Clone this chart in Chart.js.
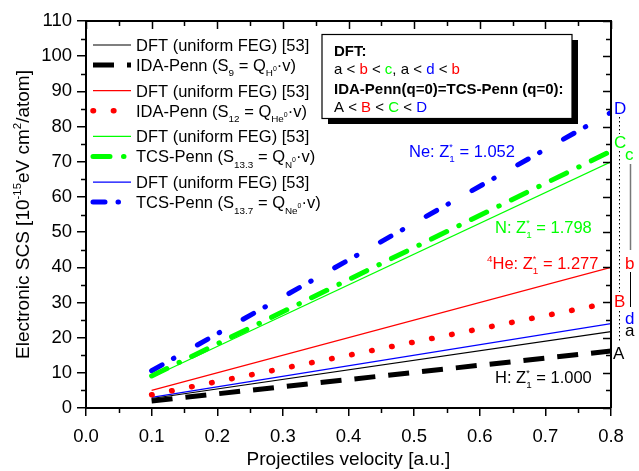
<!DOCTYPE html>
<html>
<head>
<meta charset="utf-8">
<script src="https://cdn.jsdelivr.net/npm/chart.js@4.4.1/dist/chart.umd.min.js"></script>
<style>
  html, body { margin: 0; padding: 0; background: #fff; }
</style>
</head>
<body>
<canvas id="scs" width="639" height="471"></canvas>
<script>
const FAMILY = '"Liberation Sans", Arial, Helvetica, sans-serif';

// end points of every curve: projectile velocity (a.u.)
const velocity = [0.1, 0.8];

// electronic stopping cross sections (10^-15 eV cm^2/atom)
const dftH  = [2.7, 21.7];
const idaH  = [2.0, 16.2];
const dftHe = [5.0, 40.0];
const idaHe = [3.75, 30.0];
const dftN  = [8.75, 70.0];
const tcsN  = [9.1, 73.0];
const dftNe = [3.0, 24.0];
const tcsNe = [10.6, 84.0];

// axis ranges
const xMax = 0.8, xStep = 0.1, xMinor = 0.05;
const yMax = 110, yStep = 10, yMinor = 5;

const BLACK = '#000000', RED = '#ff0000', GREEN = '#00ff00', BLUE = '#0000ff';

const pts = ys => velocity.map((v, i) => ({ x: v, y: ys[i] }));

function thinLine(ys, color) {
  return {
    data: pts(ys), borderColor: color, borderWidth: 1.2, borderDash: [],
    borderCapStyle: 'butt', pointRadius: 0, tension: 0, fill: false,
    rich: ['DFT (uniform FEG) [53]']
  };
}
function thickLine(ys, color, dash, cap, width, rich) {
  return {
    data: pts(ys), borderColor: color, borderWidth: width, borderDash: dash,
    borderCapStyle: cap, pointRadius: 0, tension: 0, fill: false, rich
  };
}

const datasets = [
  thinLine(dftH, BLACK),
  thickLine(idaH, BLACK, [21, 13], 'butt', 5,
    ['IDA-Penn (S', ['9', 'sub'], ' = Q', ['H', 'sub'], ['0', 'ssup'], '·v)']),
  thinLine(dftHe, RED),
  thickLine(idaHe, RED, [0.5, 19.9], 'round', 5.5,
    ['IDA-Penn (S', ['12', 'sub'], ' = Q', ['He', 'sub'], ['0', 'ssup'], '·v)']),
  thinLine(dftN, GREEN),
  thickLine(tcsN, GREEN, [17, 13.5, 0.5, 13.5], 'round', 5,
    ['TCS-Penn (S', ['13.3', 'sub'], ' = Q', ['N', 'sub'], ['0', 'ssup'], '·v)']),
  thinLine(dftNe, BLUE),
  thickLine(tcsNe, BLUE, [12, 13, 0.5, 27], 'round', 5,
    ['TCS-Penn (S', ['13.7', 'sub'], ' = Q', ['Ne', 'sub'], ['0', 'ssup'], '·v)'])
];

// text with sub/superscripts; parts are strings or [text, kind, color]
function rich(ctx, x, y, parts, size, weight, color, dry) {
  let cx = x;
  for (const p of parts) {
    const [text, kind = '', col] = Array.isArray(p) ? p : [p];
    let fs = size, dy = 0, advance = true;
    if (kind === 'sub') { fs = size * 0.6; dy = size * 0.33; }
    else if (kind === 'sup') { fs = size * 0.6; dy = -size * 0.4; }
    else if (kind === 'star') { fs = size * 0.55; dy = -size * 0.45; advance = false; }
    else if (kind === 'ssup') { fs = size * 0.42; dy = 0; }
    ctx.font = `${weight} ${fs}px ${FAMILY}`;
    const w = ctx.measureText(text).width;
    if (!dry) {
      ctx.fillStyle = col || color;
      ctx.fillText(text, cx, y + dy);
    }
    if (advance) cx += w;
  }
  return cx - x;
}

const zLabel = (pre, val) => [pre, 'Z', ['*', 'star'], ['1', 'sub'], ' = ' + val];

const extras = {
  id: 'extras',
  afterDraw(chart) {
    const { ctx, chartArea: a, scales: { x, y } } = chart;
    ctx.save();
    ctx.textBaseline = 'alphabetic';
    ctx.textAlign = 'left';

    // top and right frame
    ctx.strokeStyle = BLACK;
    ctx.lineWidth = 2;
    ctx.beginPath();
    ctx.moveTo(a.left, a.top); ctx.lineTo(a.right, a.top); ctx.lineTo(a.right, a.bottom);
    ctx.stroke();

    // ticks: minor outside on left/bottom, all inside on top/right
    ctx.lineWidth = 1.5;
    ctx.beginPath();
    for (let i = 0; i * xMinor <= xMax + 1e-9; i++) {
      const px = Math.round(x.getPixelForValue(i * xMinor)) + 0.5;
      const major = i % 2 === 0;
      if (!major) { ctx.moveTo(px, a.bottom); ctx.lineTo(px, a.bottom + 5); }
      ctx.moveTo(px, a.top); ctx.lineTo(px, a.top + (major ? 8 : 5));
    }
    for (let i = 0; i * yMinor <= yMax + 1e-9; i++) {
      const py = Math.round(y.getPixelForValue(i * yMinor)) + 0.5;
      const major = i % 2 === 0;
      if (!major) { ctx.moveTo(a.left, py); ctx.lineTo(a.left - 5, py); }
      ctx.moveTo(a.right, py); ctx.lineTo(a.right - (major ? 8 : 5), py);
    }
    ctx.stroke();

    // y-axis title
    const ytitle = ['Electronic SCS [10', ['-15', 'sup'], 'eV cm', ['2', 'sup'], '/atom]'];
    ctx.save();
    ctx.translate(22, (a.top + a.bottom) / 2);
    ctx.rotate(-Math.PI / 2);
    const tw = rich(ctx, 0, 0, ytitle, 19, 'normal', BLACK, true);
    rich(ctx, -tw / 2, 7, ytitle, 19, 'normal', BLACK);
    ctx.restore();

    // legend
    chart.data.datasets.forEach((ds, i) => {
      const cy = 45 + Math.floor(i / 2) * 45.7 + (i % 2) * 20;
      ctx.save();
      ctx.strokeStyle = ds.borderColor;
      ctx.lineWidth = ds.borderWidth;
      ctx.setLineDash(ds.borderDash);
      ctx.lineCap = ds.borderCapStyle;
      ctx.beginPath();
      ctx.moveTo(93, cy); ctx.lineTo(131, cy);
      ctx.stroke();
      ctx.restore();
      rich(ctx, 136, cy + 6, ds.rich, 16.5, 'normal', BLACK);
    });

    // ordering box with drop shadow
    ctx.fillStyle = BLACK;
    ctx.fillRect(328, 40, 250, 84);
    ctx.fillStyle = '#fff';
    ctx.fillRect(322, 34.5, 250, 84);
    ctx.strokeStyle = BLACK;
    ctx.lineWidth = 1.2;
    ctx.strokeRect(322, 34.5, 250, 84);
    rich(ctx, 334, 55.5, ['DFT:'], 15, 'bold', BLACK);
    rich(ctx, 334, 74, ['a < ', ['b', '', RED], ' < ', ['c', '', GREEN], ', a < ', ['d', '', BLUE], ' < ', ['b', '', RED]], 15, 'normal', BLACK);
    rich(ctx, 334, 93.5, ['IDA-Penn(q=0)=TCS-Penn (q=0):'], 15, 'bold', BLACK);
    rich(ctx, 334, 111.5, ['A < ', ['B', '', RED], ' < ', ['C', '', GREEN], ' < ', ['D', '', BLUE]], 15, 'normal', BLACK);

    // effective charge labels
    rich(ctx, 409, 157, zLabel('Ne: ', '1.052'), 16.5, 'normal', BLUE);
    rich(ctx, 495, 233, zLabel('N: ', '1.798'), 16.5, 'normal', GREEN);
    rich(ctx, 487, 269, [['4', 'sup'], ...zLabel('He: ', '1.277')], 16.5, 'normal', RED);
    rich(ctx, 495, 383, zLabel('H: ', '1.000'), 16.5, 'normal', BLACK);

    // end-point letters beyond the right axis
    const letters = [
      ['D', 614, 108, BLUE], ['C', 614, 142, GREEN], ['c', 625, 154, GREEN],
      ['b', 625, 263, RED], ['B', 614, 301, RED], ['d', 625, 318, BLUE],
      ['a', 625, 330, BLACK], ['A', 613, 353, BLACK]
    ];
    ctx.font = `17px ${FAMILY}`;
    for (const [t, lx, ly, c] of letters) {
      ctx.fillStyle = c;
      ctx.fillText(t, lx, ly + 6);
    }

    // guides linking the letters
    ctx.strokeStyle = BLACK;
    ctx.lineWidth = 1;
    ctx.setLineDash([1.5, 2.5]);
    ctx.beginPath();
    ctx.moveTo(619.5, 117); ctx.lineTo(619.5, 134);
    ctx.moveTo(619.5, 151); ctx.lineTo(619.5, 292);
    ctx.moveTo(619.5, 311); ctx.lineTo(619.5, 343);
    ctx.stroke();
    ctx.setLineDash([]);
    ctx.strokeStyle = '#777';
    ctx.lineWidth = 1.5;
    ctx.beginPath();
    ctx.moveTo(630.5, 164); ctx.lineTo(630.5, 250);
    ctx.stroke();
    ctx.strokeStyle = BLACK;
    ctx.lineWidth = 1;
    ctx.beginPath();
    ctx.moveTo(630.5, 272); ctx.lineTo(630.5, 307);
    ctx.stroke();

    ctx.restore();
  }
};

new Chart(document.getElementById('scs'), {
  type: 'line',
  data: { datasets },
  plugins: [extras],
  options: {
    responsive: false,
    animation: false,
    layout: { padding: { top: 21, right: 28, left: 0, bottom: 0 } },
    plugins: { legend: { display: false }, tooltip: { enabled: false } },
    scales: {
      x: {
        type: 'linear', min: 0, max: xMax,
        afterFit: s => { s.height = 63; },
        ticks: {
          stepSize: xStep, maxRotation: 0, padding: 10, color: BLACK,
          font: { family: FAMILY, size: 18.5 },
          callback: v => v.toFixed(1)
        },
        grid: { drawOnChartArea: false, tickLength: 8, color: BLACK, lineWidth: 1.5 },
        border: { color: BLACK, width: 2 },
        title: {
          display: true, text: 'Projectiles velocity [a.u.]', color: BLACK,
          font: { family: FAMILY, size: 19 }, padding: { top: 0, bottom: 0 }
        }
      },
      y: {
        type: 'linear', min: 0, max: yMax,
        afterFit: s => { s.width = 86; },
        ticks: {
          stepSize: yStep, padding: 5, color: BLACK,
          font: { family: FAMILY, size: 18.5 }
        },
        grid: { drawOnChartArea: false, tickLength: 9, color: BLACK, lineWidth: 1.5 },
        border: { color: BLACK, width: 2 }
      }
    }
  }
});
</script>
</body>
</html>
